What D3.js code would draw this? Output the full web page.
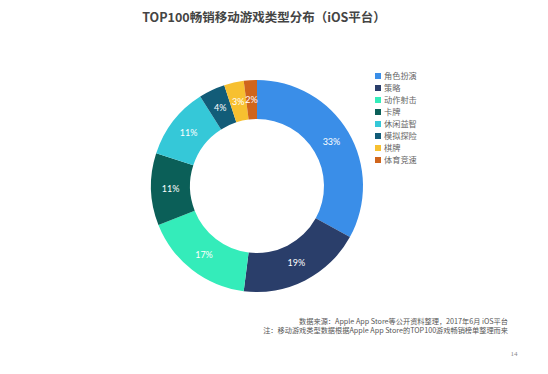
<!DOCTYPE html>
<html>
<head>
<meta charset="utf-8">
<script src="https://cdn.jsdelivr.net/npm/d3@7"></script>
<style>
  body { margin: 0; background: #fff; }
  svg { display: block; font-family: "Noto Sans CJK SC", "Noto Sans", sans-serif; }
</style>
</head>
<body>
<div id="chart"></div>
<script>
// Game genres and their share of the TOP100 (percent)
const genres = ["角色扮演", "策略", "动作射击", "卡牌", "休闲益智", "模拟探险", "棋牌", "体育竞速"];
const shares = [33, 19, 17, 11, 11, 4, 3, 2];
const colors = ["#3a8ee8", "#2a3e6a", "#34ecba", "#0b5f58", "#35c8d8", "#125c78", "#f7c030", "#d0651c"];

const W = 548, H = 374;
const svg = d3.select("#chart").append("svg")
  .attr("width", W).attr("height", H);

svg.append("text")
  .attr("x", 264).attr("y", 22).attr("text-anchor", "middle")
  .style("font-size", "12.5px").style("font-weight", "bold").attr("fill", "#444")
  .text("TOP100畅销移动游戏类型分布（iOS平台）");

const data = genres.map((g, i) => ({ genre: g, value: shares[i], color: colors[i] }));

const pie = d3.pie().value(d => d.value).sort(null);
const outerR = 106, innerR = 67;
const arc = d3.arc().innerRadius(innerR).outerRadius(outerR);
const labelArc = d3.arc().innerRadius((innerR + outerR) / 2).outerRadius((innerR + outerR) / 2);

const g = svg.append("g").attr("transform", "translate(257,186)");

const arcs = pie(data);
g.selectAll("path")
  .data(arcs)
  .join("path")
  .attr("d", arc)
  .attr("fill", d => d.data.color);

g.selectAll(".lbl")
  .data(arcs)
  .join("text")
  .attr("class", "lbl")
  .attr("transform", d => `translate(${labelArc.centroid(d)})`)
  .attr("text-anchor", "middle")
  .attr("dy", "0.35em")
  .attr("fill", "#fff")
  .style("font-size", "9px")
  .style("font-family", "Lato, 'Noto Sans', sans-serif")
  .text(d => d.data.value + "%");

// Legend
const legend = svg.append("g").attr("transform", "translate(375,76)");
const rows = legend.selectAll("g")
  .data(data)
  .join("g")
  .attr("transform", (d, i) => `translate(0,${i * 12})`);
rows.append("rect")
  .attr("x", 0).attr("y", -3).attr("width", 6).attr("height", 6)
  .attr("fill", d => d.color);
rows.append("text")
  .attr("x", 9).attr("dy", "0.35em")
  .style("font-size", "8.2px").attr("fill", "#666")
  .text(d => d.genre);

// Source notes
const notes = ["数据来源：Apple App Store等公开资料整理，2017年6月 iOS平台",
               "注：移动游戏类型数据根据Apple App Store的TOP100游戏畅销榜单整理而来"];
svg.selectAll(".note")
  .data(notes)
  .join("text")
  .attr("class", "note")
  .attr("x", 508).attr("y", (d, i) => 324 + i * 9)
  .attr("text-anchor", "end")
  .style("font-size", "7.2px").attr("fill", "#555")
  .text(d => d);

svg.append("text")
  .attr("x", 514).attr("y", 356).attr("text-anchor", "middle")
  .style("font-size", "7px").style("font-family", "'Liberation Serif', serif")
  .attr("fill", "#888")
  .text("14");
</script>
</body>
</html>
